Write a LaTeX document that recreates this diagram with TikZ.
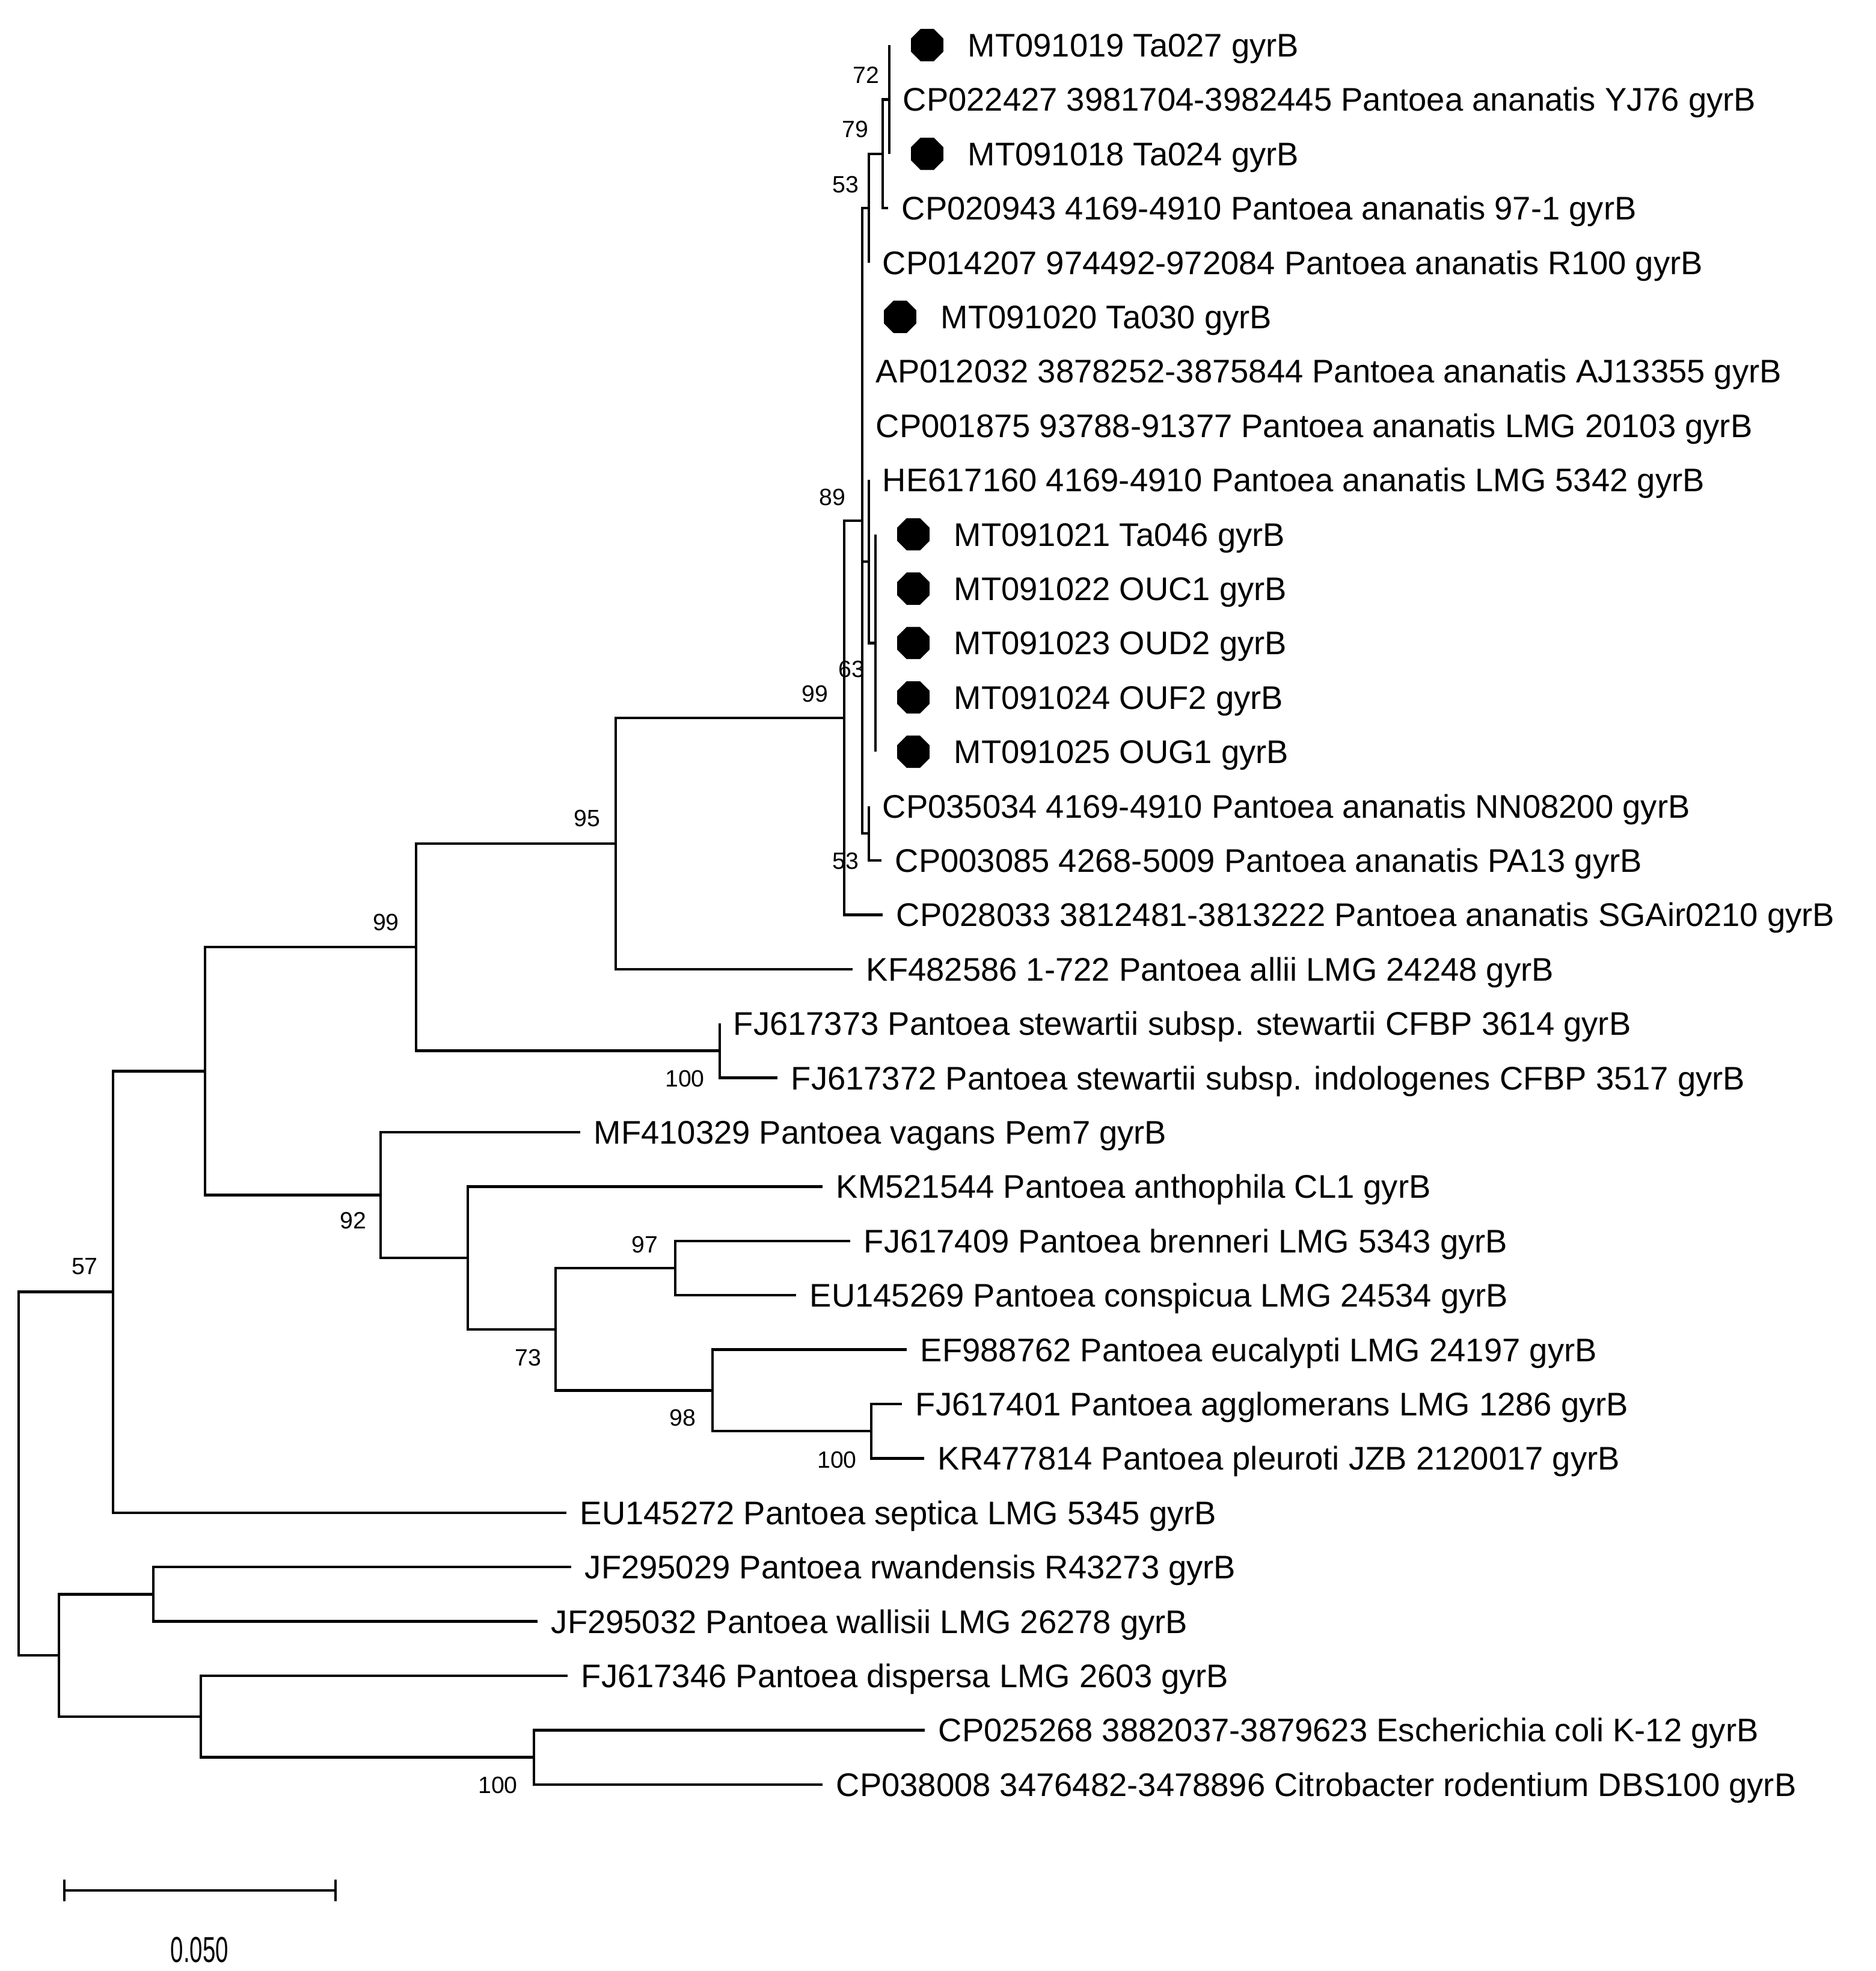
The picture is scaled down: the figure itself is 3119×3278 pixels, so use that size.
\documentclass[tikz,border=0pt]{standalone}
\usepackage{fontspec}
\setmainfont{Liberation Sans}
\usetikzlibrary{shapes.geometric,calc}
\tikzset{
 br/.style={line width=1.1pt, line join=miter},
 leaflab/.style={anchor=base west, inner sep=0pt, font=\fontsize{13.6}{16}\selectfont},
 boot/.style={inner sep=0pt, font=\fontsize{9.8}{11}\selectfont},
 isodot/.style={regular polygon, regular polygon sides=8, fill=black, inner sep=0pt, minimum size=14.5pt},
}
\newcommand\mkleaf[4]{%
 \coordinate (#1) at (#2,#3);
 \node[leaflab] (#1t) at ($(#1)+(22,19.5)$) {#4};}
\newcommand\mkdot[4]{%
 \coordinate (#1) at (#2,#3);
 \node[isodot] (#1d) at ($(#1)+(63,0)$) {};
 \node[leaflab] (#1t) at ($(#1)+(130,19.5)$) {#4};}
\begin{document}
\begin{tikzpicture}[x=0.25pt,y=-0.25pt]
\fill[white] (0,0) rectangle (3119,3278);
\useasboundingbox (0,0) rectangle (3119,3278);
% leaves
\mkdot{l1}{1479}{75}{MT091019 Ta027 gyrB}
\mkleaf{l2}{1479}{165.4}{CP022427 3981704-3982445 Pantoea ananatis YJ76 gyrB}
\mkdot{l3}{1479}{255.8}{MT091018 Ta024 gyrB}
\mkleaf{l4}{1477}{346.2}{CP020943 4169-4910 Pantoea ananatis 97-1 gyrB}
\mkleaf{l5}{1445}{436.6}{CP014207 974492-972084 Pantoea ananatis R100 gyrB}
\mkdot{l6}{1434}{527}{MT091020 Ta030 gyrB}
\mkleaf{l7}{1434}{617.4}{AP012032 3878252-3875844 Pantoea ananatis AJ13355 gyrB}
\mkleaf{l8}{1434}{707.8}{CP001875 93788-91377 Pantoea ananatis LMG 20103 gyrB}
\mkleaf{l9}{1445}{798.2}{HE617160 4169-4910 Pantoea ananatis LMG 5342 gyrB}
\mkdot{l10}{1456}{888.6}{MT091021 Ta046 gyrB}
\mkdot{l11}{1456}{979}{MT091022 OUC1 gyrB}
\mkdot{l12}{1456}{1069.4}{MT091023 OUD2 gyrB}
\mkdot{l13}{1456}{1159.8}{MT091024 OUF2 gyrB}
\mkdot{l14}{1456}{1250.2}{MT091025 OUG1 gyrB}
\mkleaf{l15}{1445}{1340.6}{CP035034 4169-4910 Pantoea ananatis NN08200 gyrB}
\mkleaf{l16}{1466}{1431}{CP003085 4268-5009 Pantoea ananatis PA13 gyrB}
\mkleaf{l17}{1468}{1521.4}{CP028033 3812481-3813222 Pantoea ananatis SGAir0210 gyrB}
\mkleaf{l18}{1418}{1611.8}{KF482586 1-722 Pantoea allii LMG 24248 gyrB}
\mkleaf{l19}{1197}{1702.2}{FJ617373 Pantoea stewartii subsp. stewartii CFBP 3614 gyrB}
\mkleaf{l20}{1293}{1792.6}{FJ617372 Pantoea stewartii subsp. indologenes CFBP 3517 gyrB}
\mkleaf{l21}{965}{1883}{MF410329 Pantoea vagans Pem7 gyrB}
\mkleaf{l22}{1368}{1973.4}{KM521544 Pantoea anthophila CL1 gyrB}
\mkleaf{l23}{1414}{2063.8}{FJ617409 Pantoea brenneri LMG 5343 gyrB}
\mkleaf{l24}{1324}{2154.2}{EU145269 Pantoea conspicua LMG 24534 gyrB}
\mkleaf{l25}{1508}{2244.6}{EF988762 Pantoea eucalypti LMG 24197 gyrB}
\mkleaf{l26}{1500}{2335}{FJ617401 Pantoea agglomerans LMG 1286 gyrB}
\mkleaf{l27}{1537}{2425.4}{KR477814 Pantoea pleuroti JZB 2120017 gyrB}
\mkleaf{l28}{942}{2515.8}{EU145272 Pantoea septica LMG 5345 gyrB}
\mkleaf{l29}{950}{2606.2}{JF295029 Pantoea rwandensis R43273 gyrB}
\mkleaf{l30}{894}{2696.6}{JF295032 Pantoea wallisii LMG 26278 gyrB}
\mkleaf{l31}{944}{2787}{FJ617346 Pantoea dispersa LMG 2603 gyrB}
\mkleaf{l32}{1538}{2877.4}{CP025268 3882037-3879623 Escherichia coli K-12 gyrB}
\mkleaf{l33}{1368}{2967.8}{CP038008 3476482-3478896 Citrobacter rodentium DBS100 gyrB}
% internal nodes
\coordinate (n1) at (1479,165.4);
\coordinate (n2) at (1468,255.8);
\coordinate (n3) at (1445,346.2);
\coordinate (n5) at (1456,1069.4);
\coordinate (n63) at (1445,933.8);
\coordinate (n53b) at (1445,1385.8);
\coordinate (n89) at (1434,866);
\coordinate (n99a) at (1404,1193.7);
\coordinate (n95) at (1024,1402.75);
\coordinate (n100a) at (1197,1747.4);
\coordinate (n99b) at (692,1575.1);
\coordinate (n97) at (1123,2109);
\coordinate (n100b) at (1449,2380.2);
\coordinate (n98) at (1185,2312.4);
\coordinate (n73) at (924,2210.7);
\coordinate (nkm) at (778,2092.05);
\coordinate (n92) at (633,1987.5);
\coordinate (n99c) at (341,1781.3);
\coordinate (n57) at (188,2148.6);
\coordinate (nrw) at (255,2651.4);
\coordinate (n100c) at (888,2922.6);
\coordinate (ndisp) at (334,2854.8);
\coordinate (nlow) at (98,2753.1);
\coordinate (root) at (31,2450.85);
% branches
\draw[br] (n1) |- (l1) (n1) |- (l2) (n1) |- (l3);
\draw[br] (n2) |- (n1) (n2) |- (l4);
\draw[br] (n3) |- (n2) (n3) |- (l5);
\draw[br] (n5) |- (l10) (n5) |- (l11) (n5) |- (l12) (n5) |- (l13) (n5) |- (l14);
\draw[br] (n63) |- (l9) (n63) |- (n5);
\draw[br] (n53b) |- (l15) (n53b) |- (l16);
\draw[br] (n89) |- (n3) (n89) |- (l6) (n89) |- (l7) (n89) |- (l8) (n89) |- (n63) (n89) |- (n53b);
\draw[br] (n99a) |- (n89) (n99a) |- (l17);
\draw[br] (n95) |- (n99a) (n95) |- (l18);
\draw[br] (n100a) |- (l19) (n100a) |- (l20);
\draw[br] (n99b) |- (n95) (n99b) |- (n100a);
\draw[br] (n97) |- (l23) (n97) |- (l24);
\draw[br] (n100b) |- (l26) (n100b) |- (l27);
\draw[br] (n98) |- (l25) (n98) |- (n100b);
\draw[br] (n73) |- (n97) (n73) |- (n98);
\draw[br] (nkm) |- (l22) (nkm) |- (n73);
\draw[br] (n92) |- (l21) (n92) |- (nkm);
\draw[br] (n99c) |- (n99b) (n99c) |- (n92);
\draw[br] (n57) |- (n99c) (n57) |- (l28);
\draw[br] (nrw) |- (l29) (nrw) |- (l30);
\draw[br] (n100c) |- (l32) (n100c) |- (l33);
\draw[br] (ndisp) |- (l31) (ndisp) |- (n100c);
\draw[br] (nlow) |- (nrw) (nlow) |- (ndisp);
\draw[br] (root) |- (n57) (root) |- (nlow);
% bootstrap values
\node[boot] (b72) at (1440,125) {72};
\node[boot] (b79) at (1422,215) {79};
\node[boot] (b53a) at (1406,307) {53};
\node[boot] (b89) at (1384,827) {89};
\node[boot] (b63) at (1416,1113) {63};
\node[boot] (b99a) at (1355,1154) {99};
\node[boot] (b53b) at (1406,1432) {53};
\node[boot] (b95) at (976,1361) {95};
\node[boot] (b99b) at (642,1534) {99};
\node[boot] (b100a) at (1139,1794) {100};
\node[boot] (b92) at (587,2030) {92};
\node[boot] (b97) at (1072,2070) {97};
\node[boot] (b73) at (878,2258) {73};
\node[boot] (b98) at (1135,2358) {98};
\node[boot] (b100b) at (1392,2428) {100};
\node[boot] (b57) at (141,2106) {57};
\node[boot] (b100c) at (828,2969) {100};
% scale bar
\coordinate (sbl) at (107,3144);
\coordinate (sbr) at (558,3144);
\draw[br] (sbl) -- (sbr);
\draw[br] ($(sbl)+(0,-18)$) -- ($(sbl)+(0,18)$);
\draw[br] ($(sbr)+(0,-18)$) -- ($(sbr)+(0,18)$);
\node[inner sep=0pt, font=\fontsize{15}{17}\selectfont] (sbt) at (332,3243) {\scalebox{0.64}[1]{0.050}};
\end{tikzpicture}
\end{document}
